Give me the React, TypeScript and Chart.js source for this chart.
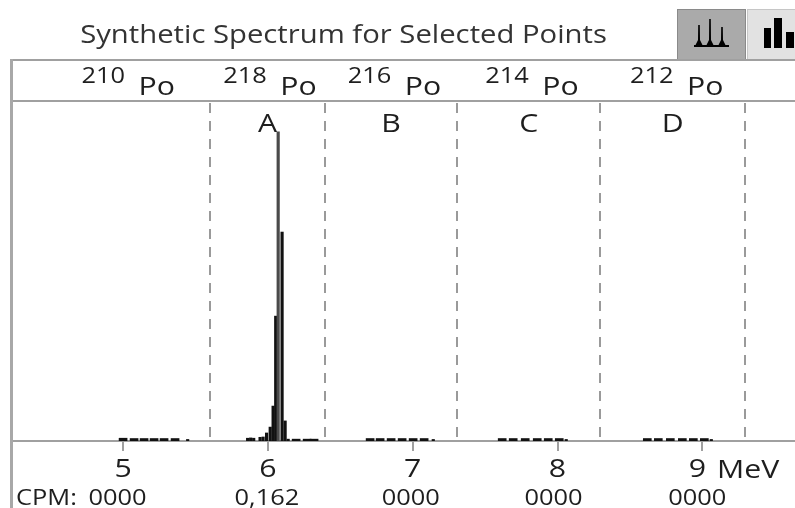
import React, { useEffect, useRef } from "react";
import { Chart, registerables } from "chart.js";

Chart.register(...registerables);

// ---------- data ----------
const TITLE = "Synthetic Spectrum for Selected Points";
const tickValues = [5, 6, 7, 8, 9];
const tickLabels = ["5", "6", "7", "8", "9"];
const axisUnit = "MeV";
const xMin = 4.226;
const xMax = 9.64;
const yMax = 1100;

const regionBounds = [5.6, 6.395, 7.307, 8.295, 9.297];
const regionLetters = ["A", "B", "C", "D"];

const isotopeMass = ["210", "218", "216", "214", "212"];
const isotopeElement = ["Po", "Po", "Po", "Po", "Po"];
const isotopeE = [5.031, 6.01, 6.869, 7.819, 8.819];

const cpmLabel = "CPM:";
const cpmValues = ["0000", "0,162", "0000", "0000", "0000"];

// thin histogram bins (MeV, counts)
const peakE = [
  5.446,
  5.86, 5.881, 5.902, 5.946, 5.967, 5.991, 6.016, 6.036, 6.054, 6.071, 6.098, 6.119, 6.14,
  7.142, 8.06, 9.062,
];
const peakCounts = [
  5,
  9, 10, 9, 12, 13, 26, 45, 113, 404, 1000, 676, 65, 6,
  5, 5, 5,
];

// wide low-level bins (MeV, counts)
const floorE = [
  5.0, 5.076, 5.145, 5.214, 5.283, 5.359,
  6.195, 6.271, 6.319,
  6.706, 6.775, 6.851, 6.927, 7.003, 7.079,
  7.618, 7.694, 7.777, 7.86, 7.936, 8.012,
  8.62, 8.696, 8.779, 8.862, 8.938, 9.014,
];
const floorCounts = [
  9, 8, 8, 8, 8, 8,
  6, 6, 6,
  8, 8, 8, 8, 8, 8,
  8, 8, 8, 8, 8, 8,
  8, 8, 8, 8, 8, 8,
];

// ---------- styling ----------
const FONT = '"Open Sans", "Noto Sans", sans-serif';
const TEXT = "#1e1e1e";
const FRAME = "#a0a0a0";
const STRETCH = 1.21;
const CPM_SHIFT = [-5.5, -1, -2, -4, -5];

function sText(
  ctx: CanvasRenderingContext2D,
  text: string,
  x: number,
  y: number,
  align: CanvasTextAlign,
  sx: number = STRETCH
) {
  ctx.save();
  ctx.translate(x, y);
  ctx.scale(sx, 1);
  ctx.textAlign = align;
  ctx.textBaseline = "alphabetic";
  ctx.fillText(text, 0, 0);
  ctx.restore();
}

const decor = {
  id: "decor",
  beforeDraw(chart: any) {
    const ctx = chart.ctx as CanvasRenderingContext2D;
    const W = chart.width;
    ctx.save();
    ctx.fillStyle = "#ffffff";
    ctx.fillRect(0, 0, W, chart.height);

    // title
    ctx.fillStyle = "#333333";
    ctx.font = `25px ${FONT}`;
    sText(ctx, TITLE, 343.5, 43, "center", 1.17);

    // toggle buttons
    ctx.fillStyle = "#aaaaaa";
    ctx.fillRect(677, 9, 69, 51);
    ctx.strokeStyle = "#8a8a8a";
    ctx.lineWidth = 1;
    ctx.strokeRect(677.5, 9.5, 68, 50);
    ctx.fillStyle = "#e2e2e2";
    ctx.fillRect(747, 9, 60, 51);
    ctx.strokeStyle = "#c6c6c6";
    ctx.strokeRect(747.5, 9.5, 60, 50);

    // spectrum icon
    ctx.fillStyle = "#000";
    ctx.fillRect(694, 45, 35, 2);
    const spikes: [number, number][] = [[699, 25], [710, 19], [722, 27]];
    spikes.forEach(([sx, top]) => {
      ctx.beginPath();
      ctx.moveTo(sx - 4, 46);
      ctx.lineTo(sx - 1, 40);
      ctx.lineTo(sx - 0.8, top);
      ctx.lineTo(sx + 0.8, top);
      ctx.lineTo(sx + 1, 40);
      ctx.lineTo(sx + 4, 46);
      ctx.closePath();
      ctx.fill();
    });
    // bar icon
    ctx.fillRect(764, 28, 7, 20);
    ctx.fillRect(774, 18, 8, 30);
    ctx.fillRect(786, 32, 8, 16);

    // frame lines
    ctx.strokeStyle = FRAME;
    ctx.lineWidth = 2;
    ctx.beginPath();
    ctx.moveTo(10, 60);
    ctx.lineTo(W, 60);
    ctx.moveTo(10, 101);
    ctx.lineTo(W, 101);
    ctx.stroke();
    ctx.restore();
  },
  beforeDatasetsDraw(chart: any) {
    const ctx = chart.ctx as CanvasRenderingContext2D;
    const xs = chart.scales.x;
    const area = chart.chartArea;
    ctx.save();
    ctx.strokeStyle = "#9a9a9a";
    ctx.lineWidth = 2;
    ctx.setLineDash([10, 8]);
    regionBounds.forEach((e) => {
      const px = Math.round(xs.getPixelForValue(e));
      ctx.beginPath();
      ctx.moveTo(px, area.top + 2);
      ctx.lineTo(px, area.bottom - 2);
      ctx.stroke();
    });
    ctx.restore();
  },
  afterDraw(chart: any) {
    const ctx = chart.ctx as CanvasRenderingContext2D;
    const xs = chart.scales.x;
    ctx.save();
    ctx.fillStyle = TEXT;

    // region letters
    ctx.font = `25px ${FONT}`;
    regionLetters.forEach((L, i) => {
      const px = (xs.getPixelForValue(regionBounds[i]) + xs.getPixelForValue(regionBounds[i + 1])) / 2;
      sText(ctx, L, px, 132, "center");
    });

    // isotope header
    isotopeE.forEach((e, i) => {
      const c = xs.getPixelForValue(e);
      ctx.font = `21px ${FONT}`;
      sText(ctx, isotopeMass[i], c - 2.5, 83, "right");
      ctx.font = `25px ${FONT}`;
      sText(ctx, isotopeElement[i], c + 11, 95, "left");
    });

    // x tick labels + unit
    ctx.font = `25px ${FONT}`;
    tickValues.forEach((v, i) => {
      const px = xs.getPixelForValue(v) - (i === tickValues.length - 1 ? 5 : 0);
      sText(ctx, tickLabels[i], px, 477, "center");
    });
    sText(ctx, axisUnit, 717, 478, "left");

    // CPM row
    ctx.font = `21px ${FONT}`;
    sText(ctx, cpmLabel, 16, 505, "left");
    cpmValues.forEach((v, i) => {
      sText(ctx, v, xs.getPixelForValue(tickValues[i]) + CPM_SHIFT[i], 505, "center");
    });

    // left frame edge
    ctx.fillStyle = "#a8a8a8";
    ctx.fillRect(10, 59, 3, chart.height - 59);
    ctx.restore();
  },
};

export default function App() {
  const ref = useRef<HTMLCanvasElement | null>(null);
  useEffect(() => {
    if (!ref.current) return;
    const peakColors = peakCounts.map((c) => (c >= 900 ? "#4a4a4a" : "#111111"));
    const chart = new Chart(ref.current, {
      type: "bar",
      data: {
        datasets: [
          {
            label: "peaks",
            data: peakE.map((x, i) => ({ x, y: peakCounts[i] })),
            backgroundColor: peakColors,
            borderWidth: 0,
            barThickness: 2.5,
            grouped: false,
          } as any,
          {
            label: "floor",
            data: floorE.map((x, i) => ({ x, y: floorCounts[i] })),
            backgroundColor: "#111111",
            borderWidth: 0,
            barThickness: 8,
            grouped: false,
          } as any,
        ],
      },
      options: {
        responsive: false,
        animation: false,
        layout: { padding: { top: 101, left: 11, right: 0, bottom: 0 } },
        plugins: {
          legend: { display: false },
          title: { display: false },
          tooltip: { enabled: false },
        },
        scales: {
          x: {
            type: "linear",
            min: xMin,
            max: xMax,
            offset: false,
            afterBuildTicks: (s: any) => {
              s.ticks = tickValues.map((v) => ({ value: v }));
            },
            afterFit: (s: any) => {
              s.height = 67;
            },
            ticks: {
              display: false,
              autoSkip: false,
              maxRotation: 0,
            },
            grid: {
              drawOnChartArea: false,
              drawTicks: true,
              tickLength: 10,
              color: FRAME,
              lineWidth: 2,
              offset: false,
            },
            border: { display: true, color: FRAME, width: 2 },
          },
          y: { display: false, min: 0, max: yMax },
        },
      } as any,
      plugins: [decor],
    });
    return () => chart.destroy();
  }, []);

  return (
    <div style={{ position: "absolute", left: 0, top: 0, width: 795, height: 508 }}>
      <canvas ref={ref} width={795} height={508} style={{ display: "block" }} />
    </div>
  );
}
